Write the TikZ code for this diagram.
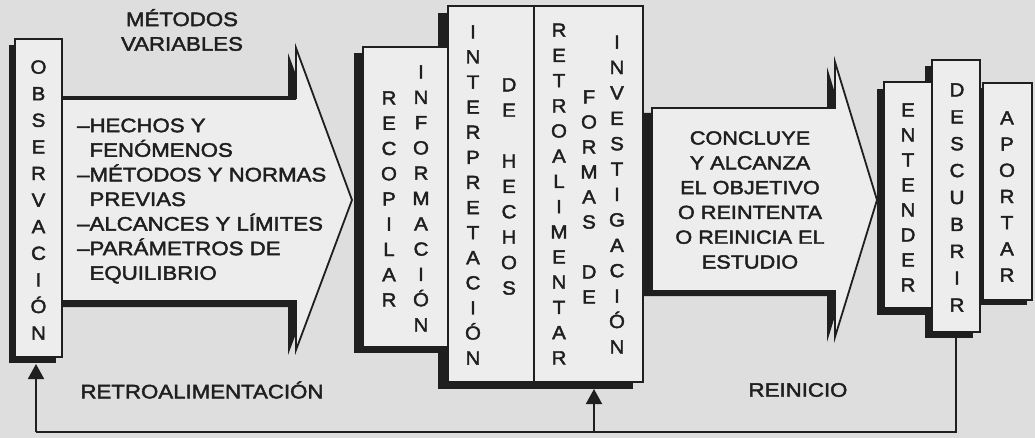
\documentclass[tikz,border=0pt]{standalone}
\usepackage{fontspec}
\setmainfont{Liberation Sans}[FakeStretch=1.14,FakeBold=2.2]
\newfontfamily\stackfont{Liberation Sans}[FakeStretch=1.08,FakeBold=2.2]
\usetikzlibrary{arrows.meta,shadows,calc}
\definecolor{bgc}{gray}{0.87}
\definecolor{boxc}{gray}{0.93}
\definecolor{ink}{gray}{0.12}
\begin{document}
\begin{tikzpicture}[x=1pt,y=-1pt,
  panel/.style={draw=ink,line width=1.8pt,fill=boxc,inner sep=0pt,outer sep=0pt},
  shd/.style 2 args={drop shadow={shadow xshift=#1pt,shadow yshift=#2pt,fill=ink,opacity=1,draw=none}},
  stack/.style={align=center,inner sep=0pt,text=ink,font=\stackfont\fontsize{19}{#1}\selectfont},
  txt/.style={inner sep=0pt,text=ink,font=\fontsize{19.5}{24.6}\selectfont},
  fb/.style={draw=ink,line width=1.9pt},
  tip/.style={-{Triangle[width=16pt,length=15pt]}},
  arrowbody/.style={fill=boxc,draw=ink,line width=1.8pt,line join=miter}
]
\useasboundingbox (0,0) rectangle (1035,438);
\fill[bgc] (0,0) rectangle (1035,438);

% ---------- arrow 1
\fill[ink] (52,103) -- (288,103) -- (288,53) -- (344,205) -- (288,355) -- (288,307) -- (52,307) -- cycle;
\path[arrowbody] (60,98) -- (296,98) -- (296,48) -- (352,200) -- (296,350) -- (296,301) -- (60,301) -- cycle;
\draw[ink,line width=3.5pt] (60,98) -- (296,98);

% ---------- observacion box
\node[panel,shd={-6}{-6},minimum width=47,minimum height=318] (obs) at (38.5,198) {};
\node[stack=26.6] (obst) at (38.5,200) {O\\B\\S\\E\\R\\V\\A\\C\\I\\Ó\\N};

% ---------- arrow 2
\fill[ink] (644,113) -- (827,113) -- (827,67) -- (869,205) -- (827,342) -- (827,296) -- (644,296) -- cycle;
\path[arrowbody] (652,108) -- (835,108) -- (835,62) -- (877,200) -- (835,337) -- (835,291) -- (652,291) -- cycle;

% ---------- middle block
\node[panel,shd={-10}{-7},minimum width=195,minimum height=376] (interp) at (545.5,194) {};
\draw[ink,line width=1.8pt] (interp.north -| 534,0) -- (interp.south -| 534,0);
\node[panel,shd={-9}{-6},minimum width=85,minimum height=300] (recop) at (405.5,197) {};

% ---------- right boxes
\node[panel,shd={-5}{-5},minimum width=49,minimum height=217] (apor) at (1007.5,191.5) {};
\node[panel,shd={-7}{-6},minimum width=48,minimum height=272] (desc) at (956,196) {};
\node[panel,shd={-7}{-7},minimum width=48,minimum height=226] (ente) at (908,195) {};

% ---------- stacked words
\node[stack=25.25] (w1) at (389,199) {R\\E\\C\\O\\P\\I\\L\\A\\R};
\node[stack=25.3] (w2) at (421,198.5) {I\\N\\F\\O\\R\\M\\A\\C\\I\\Ó\\N};
\node[stack=25.1] (w3) at (473,195) {I\\N\\T\\E\\R\\P\\R\\E\\T\\A\\C\\I\\Ó\\N};
\node[stack=25.4] (w4) at (509,186.5) {D\\E\\\mbox{}\\H\\E\\C\\H\\O\\S};
\node[stack=25.2] (w5) at (559,194) {R\\E\\T\\R\\O\\A\\L\\I\\M\\E\\N\\T\\A\\R};
\node[stack=25] (w6) at (589,197) {F\\O\\R\\M\\A\\S\\\mbox{}\\D\\E};
\node[stack=25.4] (w7) at (617,194.5) {I\\N\\V\\E\\S\\T\\I\\G\\A\\C\\I\\Ó\\N};
\node[stack=25] (w8) at (908,197.5) {E\\N\\T\\E\\N\\D\\E\\R};
\node[stack=26.9] (w9) at (957,197.5) {D\\E\\S\\C\\U\\B\\R\\I\\R};
\node[stack=26.2] (w10) at (1007,196.5) {A\\P\\O\\R\\T\\A\\R};

% ---------- texts
\node[txt,align=center] (metodos) at (182,30) {MÉTODOS\\VARIABLES};
\node[txt,align=left,anchor=west] (facts) at (77,201) {–HECHOS Y\\\hphantom{–}FENÓMENOS\\–MÉTODOS Y NORMAS\\\hphantom{–}PREVIAS\\–ALCANCES Y LÍMITES\\–PARÁMETROS DE\\\hphantom{–}EQUILIBRIO};
\node[txt,align=center,font=\fontsize{19}{24.8}\selectfont] (concl) at (750,200) {CONCLUYE\\Y ALCANZA\\EL OBJETIVO\\O REINTENTA\\O REINICIA EL\\ESTUDIO};
\node[txt] (retro) at (202,390) {RETROALIMENTACIÓN};
\node[txt] (reini) at (798,390) {REINICIO};

% ---------- feedback connectors
\coordinate (cornerR) at (956,432);
\coordinate (cornerL) at (36,432);
\coordinate (branch) at (594,432);
\coordinate (obsin) at (36,364);
\coordinate (midin) at (594,389);
\draw[fb] (desc.south) -- (cornerR) -- (cornerL);
\draw[fb,tip] (cornerL) -- (obsin);
\draw[fb,tip] (branch) -- (midin);
\end{tikzpicture}
\end{document}
